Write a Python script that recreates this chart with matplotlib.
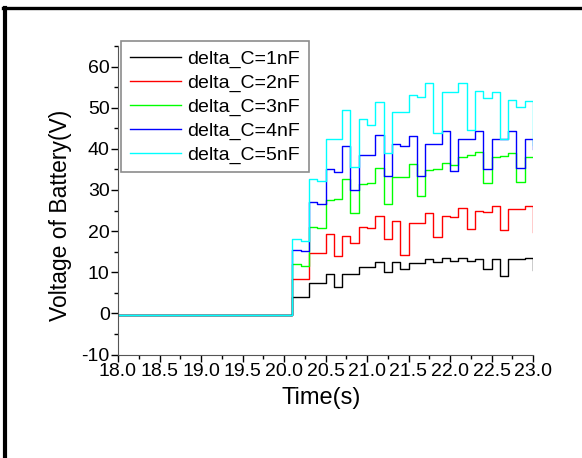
import matplotlib
matplotlib.use("Agg")
import matplotlib.pyplot as plt
import matplotlib.ticker as mtick
from matplotlib.lines import Line2D

plt.rcParams["font.family"] = ["Liberation Sans", "DejaVu Sans"]
plt.rcParams["axes.unicode_minus"] = False

# sample times (s): flat start, then 0.1 s steps, last point closes the step at 23.0
TIME = [18.0, 20.1, 20.2, 20.3, 20.4, 20.5, 20.6, 20.7, 20.8, 20.9, 21.0,
        21.1, 21.2, 21.3, 21.4, 21.5, 21.6, 21.7, 21.8, 21.9, 22.0,
        22.1, 22.2, 22.3, 22.4, 22.5, 22.6, 22.7, 22.8, 22.9, 23.0]

V_1NF = [-0.4, 4.0, 4.0, 7.3, 7.3, 9.6, 6.5, 9.6, 9.6, 11.3, 11.3,
         12.5, 10.0, 12.4, 10.7, 12.2, 12.2, 13.2, 12.5, 13.5, 12.8,
         13.5, 12.8, 13.3, 10.9, 13.3, 9.1, 13.1, 13.1, 13.5, 10.5]
V_2NF = [-0.4, 8.3, 8.3, 14.6, 14.6, 19.2, 13.9, 18.9, 17.2, 21.1, 20.7,
         23.7, 18.1, 22.5, 14.3, 22.0, 22.0, 24.5, 18.6, 23.7, 23.5,
         25.5, 20.6, 24.9, 24.7, 26.2, 20.2, 25.4, 25.4, 26.2, 19.8]
V_3NF = [-0.4, 11.9, 11.6, 21.1, 20.7, 27.5, 27.7, 32.6, 24.5, 31.4, 31.6,
         35.4, 26.5, 33.2, 33.2, 36.2, 28.6, 34.8, 35.0, 36.5, 36.0,
         38.1, 38.5, 39.2, 31.6, 38.1, 38.2, 39.0, 32.0, 37.9, 37.9]
V_4NF = [-0.4, 15.4, 15.1, 27.1, 26.7, 35.2, 34.4, 40.7, 30.1, 38.5, 38.5,
         43.3, 33.4, 41.2, 40.7, 43.1, 33.5, 41.2, 41.2, 44.3, 34.6,
         42.4, 42.4, 44.3, 35.2, 42.4, 42.4, 44.3, 35.4, 42.4, 40.0]
V_5NF = [-0.4, 18.2, 17.6, 32.6, 32.1, 42.4, 42.4, 49.4, 35.6, 47.2, 45.9,
         51.4, 38.9, 49.0, 49.0, 53.0, 52.7, 56.1, 43.9, 53.8, 53.8,
         56.1, 44.6, 54.0, 52.3, 53.8, 42.5, 51.8, 50.2, 51.6, 40.9]

SERIES = [V_1NF, V_2NF, V_3NF, V_4NF, V_5NF]
LABELS = ["delta_C=1nF", "delta_C=2nF", "delta_C=3nF", "delta_C=4nF", "delta_C=5nF"]
COLORS = ["#000000", "#FF0000", "#00FF00", "#0000FF", "#00FFFF"]


def main() -> None:
    fig = plt.figure(figsize=(5.82, 4.58), dpi=100)
    ax = fig.add_axes([118 / 582, 1 - 354.5 / 458, 415 / 582, 308.5 / 458])

    for vals, lab, col in zip(SERIES, LABELS, COLORS):
        ax.plot(TIME, vals, drawstyle="steps-post", color=col, linewidth=1.0, label=lab)

    ax.set_xlim(18.0, 23.0)
    ax.set_ylim(-10, 65)
    ax.xaxis.set_major_locator(mtick.MultipleLocator(0.5))
    ax.xaxis.set_minor_locator(mtick.MultipleLocator(0.25))
    ax.xaxis.set_major_formatter(mtick.FormatStrFormatter("%.1f"))
    ax.yaxis.set_major_locator(mtick.MultipleLocator(10))
    ax.yaxis.set_minor_locator(mtick.MultipleLocator(5))
    ax.tick_params(which="major", direction="out", length=5, width=1, labelsize=14, pad=1)
    ax.tick_params(which="minor", direction="out", length=3, width=1)

    for side in ("top", "right"):
        ax.spines[side].set_visible(False)
    for side in ("left", "bottom"):
        ax.spines[side].set_color("#555555")

    ax.set_xlabel("Time(s)", fontsize=17, labelpad=5)
    ax.xaxis.label.set_x(0.49)
    ax.set_ylabel("Voltage of Battery(V)", fontsize=16.5, labelpad=7)
    ax.yaxis.label.set_y(0.45)

    leg = ax.legend(loc="upper left", bbox_to_anchor=(121 / 582, 1 - 41 / 458),
                    bbox_transform=fig.transFigure, fontsize=14, frameon=True,
                    fancybox=False, borderaxespad=0, handlelength=2.65,
                    handletextpad=0.3, labelspacing=0.32, borderpad=0.45)
    leg.get_frame().set_edgecolor("#707070")
    leg.get_frame().set_linewidth(1.2)

    # partial outer frame (top and left edges only)
    fig.add_artist(Line2D([3 / 582, 1.0], [1 - 7.5 / 458] * 2, color="black",
                          linewidth=2.4, transform=fig.transFigure))
    fig.add_artist(Line2D([5 / 582] * 2, [0.0, 1 - 7.5 / 458], color="black",
                          linewidth=3.0, transform=fig.transFigure))

    fig.savefig("out.png", dpi=100)
    plt.close(fig)


if __name__ == "__main__":
    main()
